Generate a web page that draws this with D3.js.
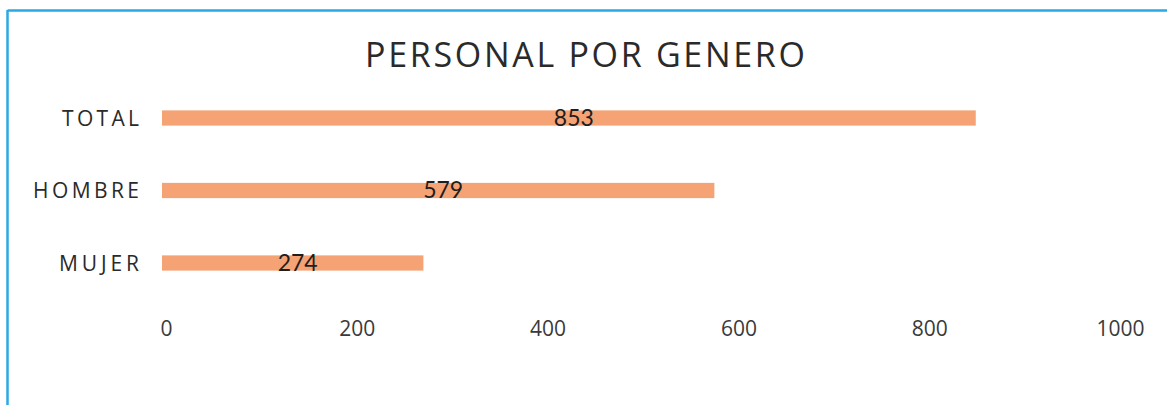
<!DOCTYPE html>
<html>
<head>
<meta charset="utf-8">
<script src="https://cdn.jsdelivr.net/npm/d3@7"></script>
<style>
  html, body { margin: 0; padding: 0; background: #fff; }
  svg { display: block; }
</style>
</head>
<body>
<svg id="chart" width="1167" height="405"></svg>
<script>
const title = "PERSONAL POR GENERO";
const categories = ["TOTAL", "HOMBRE", "MUJER"];
const values = [853, 579, 274];
const tickValues = [0, 200, 400, 600, 800, 1000];

const svg = d3.select("#chart");
const W = 1167, H = 405;

// frame (cyan border on top and left)
svg.append("line").attr("x1", 7.5).attr("x2", W).attr("y1", 10.5).attr("y2", 10.5)
  .attr("stroke", "#2aa9e2").attr("stroke-width", 2.5);
svg.append("line").attr("x1", 7.5).attr("x2", 7.5).attr("y1", 10).attr("y2", H)
  .attr("stroke", "#2aa9e2").attr("stroke-width", 2.5);

const x = d3.scaleLinear().domain([0, 1000]).range([162, 1116]);
const y = d3.scaleBand().domain(categories).range([81.75, 299.25])
  .paddingInner(0.79).paddingOuter(0.395);

// title
svg.append("text")
  .attr("x", 585).attr("y", 67)
  .attr("text-anchor", "middle")
  .attr("font-family", "Open Sans, sans-serif")
  .attr("font-size", 34)
  .attr("fill", "#2a2a2a")
  .attr("textLength", 440).attr("lengthAdjust", "spacing")
  .text(title);

// bars
svg.selectAll("rect.bar").data(values).join("rect")
  .attr("class", "bar")
  .attr("x", x(0))
  .attr("y", (d, i) => y(categories[i]))
  .attr("width", d => x(d) - x(0))
  .attr("height", y.bandwidth())
  .attr("fill", "#f5a274");

// category labels
const catWidths = {TOTAL: 77, HOMBRE: 106, MUJER: 80};
svg.selectAll("text.cat").data(categories).join("text")
  .attr("class", "cat")
  .attr("x", 139)
  .attr("y", d => y(d) + y.bandwidth() / 2 + 7.5)
  .attr("text-anchor", "end")
  .attr("font-family", "Open Sans, sans-serif")
  .attr("font-size", 21)
  .attr("fill", "#2a2a2a")
  .attr("textLength", d => catWidths[d]).attr("lengthAdjust", "spacing")
  .text(d => d);

// value labels
svg.selectAll("text.val").data(values).join("text")
  .attr("class", "val")
  .attr("x", d => (x(0) + x(d)) / 2 + 5)
  .attr("y", (d, i) => y(categories[i]) + y.bandwidth() / 2 + 7.5)
  .attr("text-anchor", "middle")
  .attr("font-family", "Lato, sans-serif")
  .attr("font-size", 23)
  .attr("fill", "#1e1e1e")
  .text(d => d);

// x axis (labels only)
const axis = d3.axisBottom(x).tickValues(tickValues).tickFormat(d3.format("d"))
  .tickSize(0).tickPadding(0);
const g = svg.append("g").attr("transform", "translate(4,321)").call(axis);
g.select(".domain").remove();
g.selectAll("text")
  .attr("font-family", "Open Sans, sans-serif")
  .attr("font-size", 21)
  .attr("fill", "#3a3a3a")
  .attr("dy", "0.71em");
</script>
</body>
</html>
